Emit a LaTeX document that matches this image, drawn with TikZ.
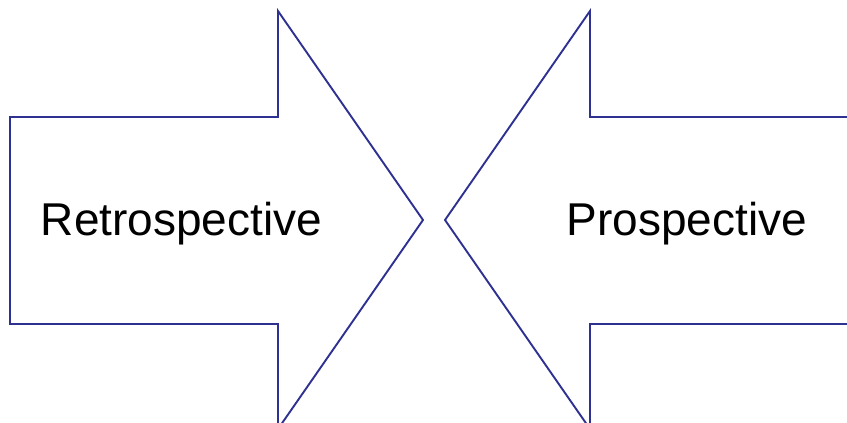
\documentclass[tikz,border=0pt]{standalone}
\usepackage{fontspec}
\setmainfont{Liberation Sans}
\definecolor{arrowblue}{HTML}{2E3192}
\tikzset{
  bigarrow/.style={draw=arrowblue, line width=1.9pt, fill=white, line join=miter},
  label/.style={font=\fontsize{46}{50}\selectfont, text=black, inner sep=0pt, anchor=base}
}
\begin{document}
\begin{tikzpicture}[x=1pt,y=-1pt]
\useasboundingbox (0,0) rectangle (847,423);
\clip (0,0) rectangle (847,423);
\draw[bigarrow] (10,117) -- (278,117) -- (278,11) -- (423,220) -- (278,429) -- (278,324) -- (10,324) -- cycle;
\draw[bigarrow] (860,117) -- (590,117) -- (590,11) -- (445,220) -- (590,429) -- (590,324) -- (860,324) -- cycle;
\node[label] (retro) at (181.5,235) {Retrospective};
\node[label] (prosp) at (687,235) {Prospective};
\end{tikzpicture}
\end{document}
